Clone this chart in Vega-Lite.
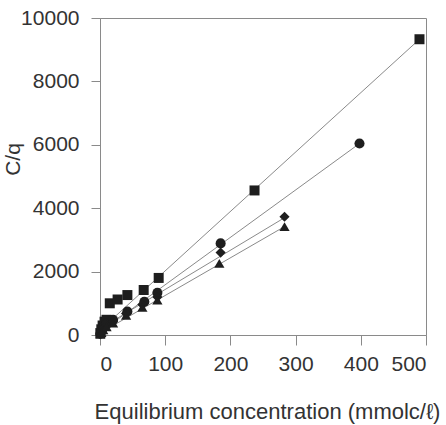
{
  "$schema": "https://vega.github.io/schema/vega-lite/v6.json",
  "autosize": "none",
  "width": 326,
  "height": 317,
  "padding": {"left": 100, "top": 18, "right": 20, "bottom": 90},
  "background": "white",
  "config": {
    "view": {"stroke": "#8a8a8a", "strokeWidth": 1},
    "font": "Liberation Sans"
  },
  "datasets": {
    "pts": [
      {"series": "square", "conc": 0.5, "cq": 60},
      {"series": "square", "conc": 2, "cq": 180},
      {"series": "square", "conc": 4, "cq": 300},
      {"series": "square", "conc": 7, "cq": 420},
      {"series": "square", "conc": 10, "cq": 480},
      {"series": "square", "conc": 15, "cq": 1000},
      {"series": "square", "conc": 27, "cq": 1120},
      {"series": "square", "conc": 42, "cq": 1260},
      {"series": "square", "conc": 67, "cq": 1420},
      {"series": "square", "conc": 90, "cq": 1800},
      {"series": "square", "conc": 237, "cq": 4560},
      {"series": "square", "conc": 490, "cq": 9330},
      {"series": "circle", "conc": 0.5, "cq": 40},
      {"series": "circle", "conc": 2, "cq": 120},
      {"series": "circle", "conc": 5, "cq": 230},
      {"series": "circle", "conc": 10, "cq": 350},
      {"series": "circle", "conc": 20, "cq": 480},
      {"series": "circle", "conc": 42, "cq": 740},
      {"series": "circle", "conc": 68, "cq": 1050},
      {"series": "circle", "conc": 88, "cq": 1330},
      {"series": "circle", "conc": 185, "cq": 2890},
      {"series": "circle", "conc": 398, "cq": 6040},
      {"series": "diamond", "conc": 0.5, "cq": 30},
      {"series": "diamond", "conc": 2, "cq": 100},
      {"series": "diamond", "conc": 5, "cq": 200},
      {"series": "diamond", "conc": 10, "cq": 300},
      {"series": "diamond", "conc": 20, "cq": 420},
      {"series": "diamond", "conc": 40, "cq": 680},
      {"series": "diamond", "conc": 65, "cq": 960},
      {"series": "diamond", "conc": 88, "cq": 1200},
      {"series": "diamond", "conc": 185, "cq": 2600},
      {"series": "diamond", "conc": 283, "cq": 3730},
      {"series": "triangle", "conc": 0.5, "cq": 20},
      {"series": "triangle", "conc": 2, "cq": 80},
      {"series": "triangle", "conc": 5, "cq": 160},
      {"series": "triangle", "conc": 10, "cq": 260},
      {"series": "triangle", "conc": 20, "cq": 380},
      {"series": "triangle", "conc": 40, "cq": 620},
      {"series": "triangle", "conc": 65, "cq": 870},
      {"series": "triangle", "conc": 88, "cq": 1100},
      {"series": "triangle", "conc": 183, "cq": 2260},
      {"series": "triangle", "conc": 283, "cq": 3420}
    ],
    "fits": [
      {"series": "square", "conc": 0, "cq": 150},
      {"series": "square", "conc": 490, "cq": 9330},
      {"series": "circle", "conc": 0, "cq": 90},
      {"series": "circle", "conc": 398, "cq": 6040},
      {"series": "diamond", "conc": 0, "cq": 200},
      {"series": "diamond", "conc": 283, "cq": 3700},
      {"series": "triangle", "conc": 0, "cq": 60},
      {"series": "triangle", "conc": 283, "cq": 3420}
    ]
  },
  "encoding": {
    "x": {
      "field": "conc", "type": "quantitative",
      "scale": {"domain": [0, 500], "nice": false},
      "axis": {
        "title": "Equilibrium concentration (mmolc/ℓ)",
        "values": [0, 100, 200, 300, 400, 500],
        "format": "d",
        "grid": false,
        "domainColor": "#8a8a8a", "tickColor": "#8a8a8a",
        "tickSize": 10, "labelPadding": 8,
        "labelFontSize": 21, "labelColor": "#333", "labelFontWeight": "normal",
        "titleFontSize": 22, "titleColor": "#333", "titleFontWeight": "normal",
        "titleBaseline": "alphabetic", "titleY": 83, "titleX": 167
      }
    },
    "y": {
      "field": "cq", "type": "quantitative",
      "scale": {"domain": [0, 10000], "nice": false},
      "axis": {
        "title": "C/q",
        "values": [0, 2000, 4000, 6000, 8000, 10000],
        "format": "d",
        "grid": false,
        "domainColor": "#8a8a8a", "tickColor": "#8a8a8a",
        "tickSize": 9, "labelPadding": 12,
        "labelFontSize": 21, "labelColor": "#333",
        "titleFontSize": 21, "titleColor": "#333", "titleFontWeight": "normal",
        "titleX": -77, "titleY": 141
      }
    }
  },
  "layer": [
    {
      "data": {"name": "fits"},
      "mark": {"type": "line", "color": "#8a8a8a", "strokeWidth": 1},
      "encoding": {"detail": {"field": "series"}}
    },
    {
      "data": {"name": "pts"},
      "mark": {"type": "point", "filled": true, "opacity": 1, "color": "#1e1e1e"},
      "encoding": {
        "shape": {
          "field": "series", "type": "nominal",
          "scale": {"domain": ["square", "circle", "diamond", "triangle"], "range": ["square", "circle", "diamond", "triangle-up"]},
          "legend": null
        },
        "size": {
          "field": "series", "type": "nominal",
          "scale": {"domain": ["square", "circle", "diamond", "triangle"], "range": [100, 105, 135, 100]},
          "legend": null
        }
      }
    }
  ]
}
